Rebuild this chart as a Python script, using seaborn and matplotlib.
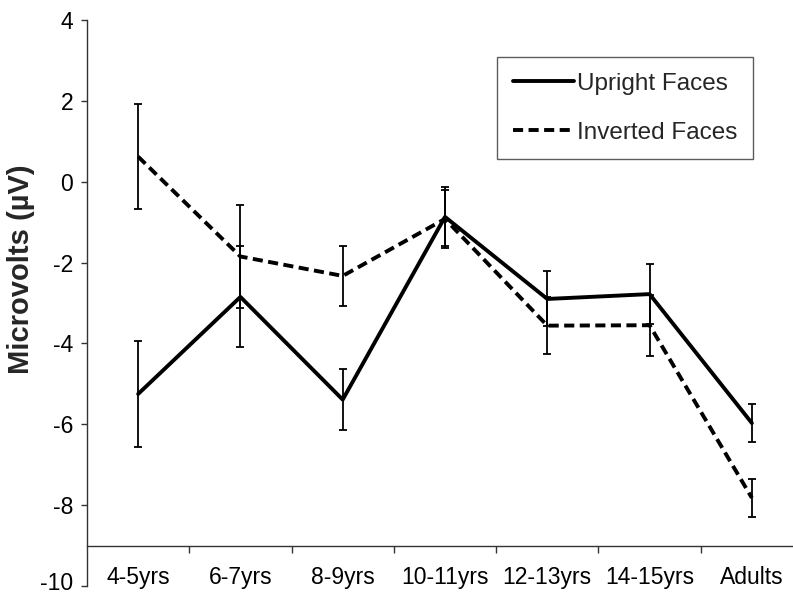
import numpy as np
import pandas as pd
import matplotlib
matplotlib.use('Agg')
import matplotlib.pyplot as plt
import matplotlib.transforms as mtransforms
import seaborn as sns

# age groups on the x axis
age_groups = ['4-5yrs', '6-7yrs', '8-9yrs', '10-11yrs', '12-13yrs', '14-15yrs', 'Adults']
# mean amplitude (microvolts) and error bar half-lengths
upright = [-5.25, -2.85, -5.39, -0.87, -2.9, -2.78, -5.97]
upright_err = [1.3, 1.25, 0.75, 0.73, 0.68, 0.75, 0.47]
inverted = [0.62, -1.85, -2.33, -0.92, -3.56, -3.55, -7.82]
inverted_err = [1.29, 1.27, 0.75, 0.72, 0.7, 0.75, 0.47]
series_names = ['Upright Faces', 'Inverted Faces']

sns.set_theme(style='ticks')
plt.rcParams['font.family'] = ['Liberation Sans', 'DejaVu Sans']
plt.rcParams['axes.unicode_minus'] = False

pos = np.arange(len(age_groups))
df = pd.DataFrame({
    'pos': np.concatenate([pos, pos]),
    'value': upright + inverted,
    'err': upright_err + inverted_err,
    'cond': [series_names[0]] * len(pos) + [series_names[1]] * len(pos),
})

fig = plt.figure(figsize=(7.93, 5.96), dpi=100)
ax = fig.add_axes([87 / 793, 10 / 596, 716 / 793, 566 / 596])

# error bars first, lines drawn over them
for name in series_names:
    sub = df[df['cond'] == name]
    ax.errorbar(sub['pos'], sub['value'], yerr=sub['err'], fmt='none',
                ecolor='black', elinewidth=1.3, capsize=3, capthick=1.3, zorder=2)

sns.lineplot(data=df, x='pos', y='value', hue='cond', style='cond',
             palette={series_names[0]: 'black', series_names[1]: 'black'},
             dashes={series_names[0]: '', series_names[1]: (2.6, 1.4)},
             linewidth=2.8, ax=ax, zorder=3)

ax.set_xlim(-0.5, 6.5)
ax.set_ylim(-10, 4)
ax.set_yticks(np.arange(-10, 5, 2))
ax.set_xticks(pos)
ax.set_xticklabels(age_groups)
ax.set_xticks(pos[:-1] + 0.5, minor=True)
ax.tick_params(axis='x', which='major', length=0, pad=15, labelsize=16.5, colors='black')
ax.tick_params(axis='x', which='minor', length=5, width=1, direction='out', color='#333333')
ax.tick_params(axis='y', length=4, width=1, direction='out', labelsize=16.5, pad=6,
               colors='black', color='#333333')

# bottom label (-10) sits right at the figure edge; lift it a little so it stays inside
low = ax.yaxis.get_major_ticks()[0].label1
low.set_va('baseline')
low.set_transform(low.get_transform() + mtransforms.ScaledTranslation(0, -3 / 72, fig.dpi_scale_trans))

ax.spines['top'].set_visible(False)
ax.spines['right'].set_visible(False)
ax.spines['bottom'].set_position(('data', -9))
for s in ['left', 'bottom']:
    ax.spines[s].set_color('#333333')
    ax.spines[s].set_linewidth(1.0)

ax.set_xlabel('')
ax.set_ylabel('Microvolts (µV)', fontsize=21, fontweight='bold')
ax.yaxis.set_label_coords(-0.072, 0.559)

handles, labels = ax.get_legend_handles_labels()
leg = ax.legend(handles, labels, loc='upper left', bbox_to_anchor=(497 / 793, 1 - 57 / 596),
                bbox_transform=fig.transFigure, fontsize=17.5, frameon=True, fancybox=False,
                edgecolor='#333333', handlelength=2.5, handletextpad=0.15, labelspacing=1.1,
                borderpad=0.65, borderaxespad=0)
leg.get_frame().set_linewidth(1.0)
for line in leg.get_lines():
    line.set_linewidth(2.8)

fig.savefig('out.png', dpi=100, facecolor='white')
